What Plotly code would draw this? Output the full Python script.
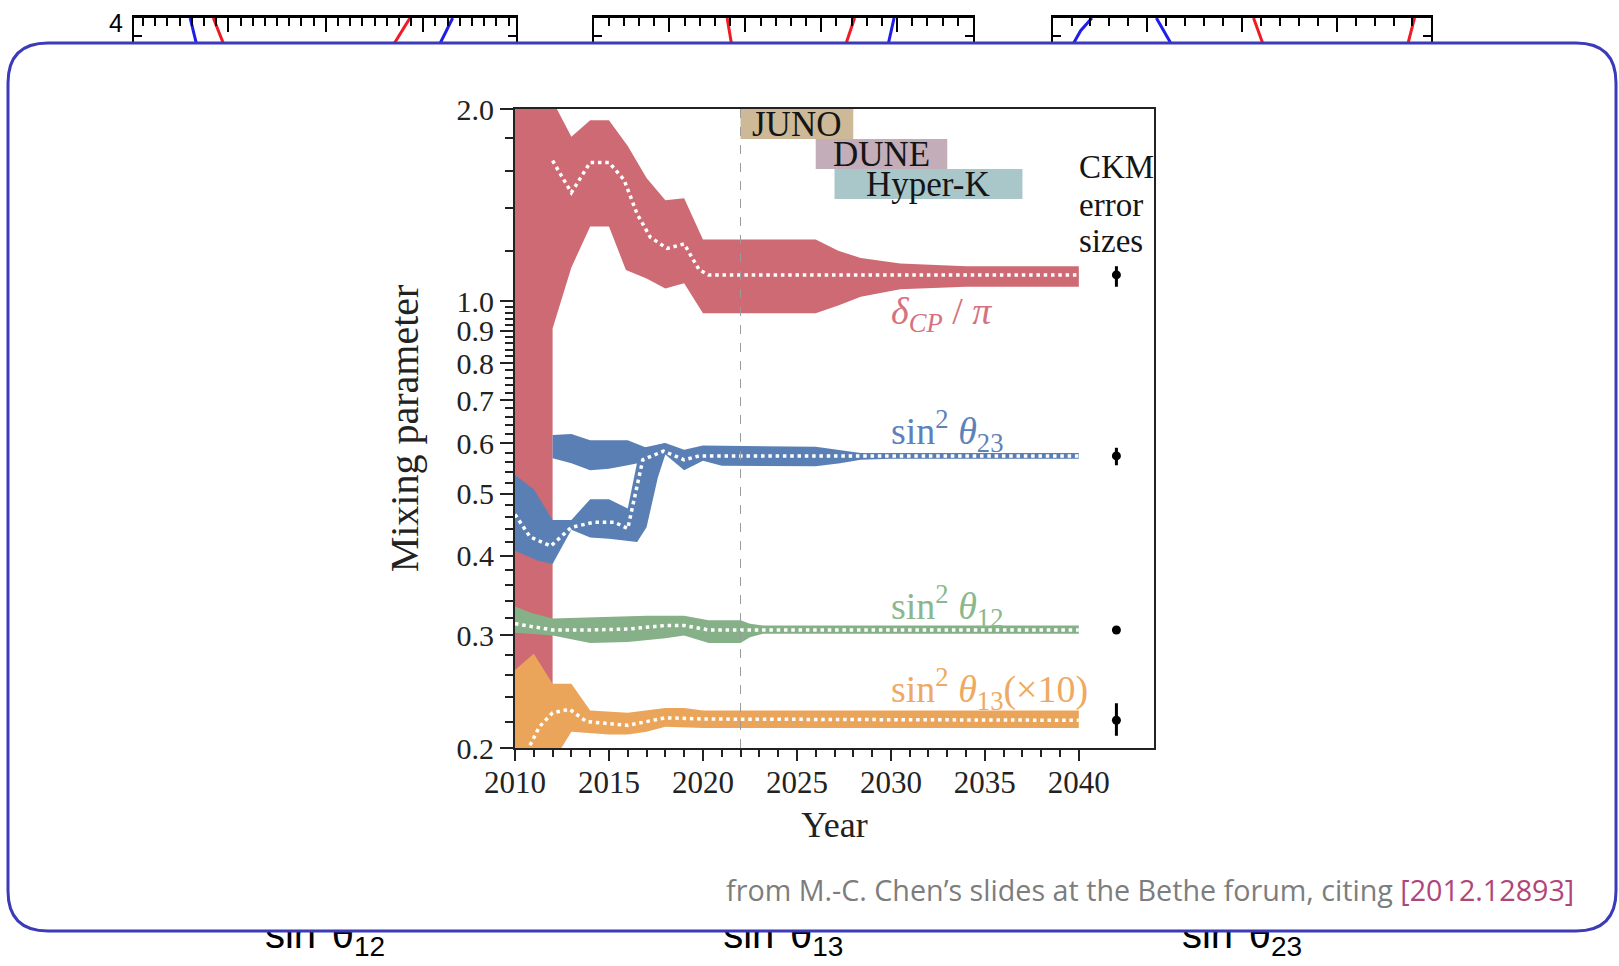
import numpy as np
import plotly.graph_objects as go

W, H = 1619, 966

# ---------------- main chart: axes ----------------
X_MAJOR = [2010, 2015, 2020, 2025, 2030, 2035, 2040]
X_MINOR = [y for y in range(2011, 2040) if y % 5]
Y_MAJOR = [0.2, 0.3, 0.4, 0.5, 0.6, 0.7, 0.8, 0.9, 1.0, 2.0]
Y_LABELS = ["0.2", "0.3", "0.4", "0.5", "0.6", "0.7", "0.8", "0.9", "1.0", "2.0"]
Y_MINOR = [round(0.2 + 0.02 * k, 2) for k in range(1, 40) if k % 5] + [1.2, 1.4, 1.6, 1.8]

# ---------------- main chart: bands (upper / lower edges) ----------------
# delta_CP / pi
RED_UP_X = [2010, 2012, 2013, 2014, 2015, 2016, 2017, 2018, 2019, 2020, 2026, 2027.2, 2028.4, 2030.5, 2034, 2040]
RED_UP = [2.3, 2.06, 1.81, 1.92, 1.92, 1.75, 1.56, 1.44, 1.45, 1.25, 1.25, 1.20, 1.169, 1.146, 1.135, 1.135]
RED_LO_X = [2010, 2012, 2012, 2013, 2014, 2015, 2015.9, 2017, 2018, 2019, 2020, 2026, 2027.2, 2028.4, 2030.5, 2034, 2040]
RED_LO = [0.18, 0.18, 0.907, 1.13, 1.31, 1.31, 1.12, 1.086, 1.047, 1.067, 0.958, 0.958, 0.985, 1.017, 1.045, 1.054, 1.054]
RED_MID_X = [2012, 2013, 2014, 2015, 2015.8, 2016.5, 2017.2, 2018.1, 2019, 2019.8, 2020.3, 2040]
RED_MID = [1.66, 1.48, 1.65, 1.65, 1.55, 1.37, 1.26, 1.21, 1.23, 1.12, 1.10, 1.10]

# sin^2 theta_23 (lower octant -> merged band)
BLUE_UP_X = [2010, 2011, 2012, 2013, 2014, 2015, 2016, 2016.5, 2016.8, 2018, 2019, 2020, 2026, 2027.3, 2028.4, 2040]
BLUE_UP = [0.535, 0.508, 0.455, 0.455, 0.49, 0.49, 0.474, 0.56, 0.59, 0.60, 0.586, 0.595, 0.592, 0.585, 0.579, 0.579]
BLUE_LO_X = [2010, 2011.2, 2012, 2013, 2014, 2015, 2016.5, 2017, 2017.6, 2018, 2019, 2020, 2021, 2026, 2027.3, 2028.4, 2030, 2040]
BLUE_LO = [0.407, 0.393, 0.388, 0.439, 0.427, 0.425, 0.42, 0.443, 0.53, 0.576, 0.544, 0.563, 0.553, 0.552, 0.558, 0.565, 0.567, 0.567]
# sin^2 theta_23 (upper octant band 2012-2018)
BLUE2_UP_X = [2012, 2013, 2014, 2016, 2017, 2018]
BLUE2_UP = [0.618, 0.62, 0.606, 0.606, 0.59, 0.60]
BLUE2_LO_X = [2012, 2013, 2014, 2015, 2016, 2016.8, 2018]
BLUE2_LO = [0.568, 0.558, 0.544, 0.547, 0.554, 0.56, 0.58]
BLUE_MID_X = [2010, 2010.8, 2011.9, 2013, 2014.2, 2015.3, 2016, 2016.3, 2016.6, 2016.8, 2017.9, 2019, 2019.8, 2040]
BLUE_MID = [0.464, 0.428, 0.414, 0.443, 0.451, 0.451, 0.441, 0.484, 0.53, 0.565, 0.583, 0.565, 0.573, 0.573]

# sin^2 theta_12
GREEN_UP_X = [2010, 2010.8, 2012, 2014, 2017, 2019, 2020.3, 2022, 2022.5, 2023.2, 2040]
GREEN_UP = [0.333, 0.326, 0.319, 0.32, 0.322, 0.322, 0.317, 0.317, 0.313, 0.311, 0.311]
GREEN_LO_X = [2010, 2012, 2014, 2016, 2018, 2019, 2020.3, 2022, 2022.5, 2023.2, 2040]
GREEN_LO = [0.303, 0.300, 0.292, 0.293, 0.297, 0.300, 0.292, 0.292, 0.298, 0.302, 0.302]
GREEN_MID_X = [2010, 2011, 2012, 2014, 2016, 2018, 2019, 2020.3, 2040]
GREEN_MID = [0.313, 0.309, 0.306, 0.306, 0.307, 0.311, 0.311, 0.306, 0.306]

# sin^2 theta_13 (x10)
ORANGE_UP_X = [2010, 2011, 2012, 2013, 2014, 2016, 2018, 2019, 2020, 2040]
ORANGE_UP = [0.265, 0.281, 0.252, 0.252, 0.229, 0.227, 0.231, 0.231, 0.229, 0.229]
ORANGE_LO_X = [2010, 2012, 2013, 2015, 2016, 2017, 2018, 2020, 2040]
ORANGE_LO = [0.19, 0.19, 0.212, 0.21, 0.21, 0.212, 0.216, 0.215, 0.215]
ORANGE_MID_X = [2010.8, 2011.3, 2012, 2012.9, 2013.8, 2015, 2016, 2018, 2020, 2040]
ORANGE_MID = [0.202, 0.216, 0.227, 0.23, 0.22, 0.218, 0.217, 0.223, 0.222, 0.221]

# CKM error sizes
CKM_YEAR = 2042
CKM_VALS = [1.10, 0.573, 0.306, 0.221]
CKM_PLUS = [0.035, 0.017, 0.0, 0.014]
CKM_MINUS = [0.046, 0.019, 0.0, 0.012]

# experiments timeline
TODAY = 2022
EXPERIMENTS = ["JUNO", "DUNE", "Hyper-K"]
EXP_START = [2022, 2026, 2027]
EXP_END = [2028, 2033, 2037]
EXP_COLORS = ["#cdb997", "#c2adb9", "#a9c6c9"]

# ---------------- background strip (top of underlying slide) ----------------
STRIP_RANGES = [(6.516, 8.476), (2.25, 2.50), (0.0, 2.0)]
STRIP_TICK0 = [7.0, 2.25, 0.0]
STRIP_DTICK = [0.5, 0.05, 0.5]
STRIP_MINOR = [0.0625, 0.01, 0.1]
STRIP_CURVES = [  # (panel, color, x values, chi2 values)
    (0, "blue", [6.804, 6.838], [4.0, 3.70]),
    (0, "red", [6.923, 6.978], [4.0, 3.70]),
    (0, "red", [7.932, 7.846], [4.0, 3.70]),
    (0, "blue", [8.151, 8.082], [4.0, 3.70]),
    (1, "red", [2.338, 2.341], [4.0, 3.70]),
    (1, "red", [2.422, 2.416], [4.0, 3.70]),
    (1, "blue", [2.448, 2.444], [4.0, 3.70]),
    (2, "blue", [0.2075, 0.148, 0.105], [4.0, 3.86, 3.70]),
    (2, "blue", [0.548, 0.630], [4.0, 3.70]),
    (2, "red", [1.061, 1.113], [4.0, 3.70]),
    (2, "red", [1.911, 1.874], [4.0, 3.70]),
]
BG_XTITLES = ["sin<sup>2</sup>θ<sub>12</sub>", "sin<sup>2</sup>θ<sub>13</sub>", "sin<sup>2</sup>θ<sub>23</sub>"]

# ---------------- styles ----------------
RED, BLUE, GREEN, ORANGE = "#ce6a73", "#5a7fb5", "#86b087", "#eba55a"
RED_T, BLUE_T, GREEN_T, ORANGE_T = "#d5727e", "#5d82b9", "#8bb78c", "#eea963"
SERIF = "Liberation Serif, Times New Roman, serif"
SANS = "Liberation Sans, Arial, sans-serif"
DOT = dict(color="white", width=3.5, dash="3.5px,3.8px")


def px_x(x):
    return x / W


def px_y(y):
    return 1 - y / H


fig = go.Figure()


def band(xu, yu, xl, yl, color):
    fig.add_trace(go.Scatter(
        x=list(xu) + list(xl)[::-1], y=list(yu) + list(yl)[::-1],
        fill="toself", fillcolor=color, mode="lines", line=dict(width=0, color=color),
        hoverinfo="skip", xaxis="x", yaxis="y"))


def dotted(x, y):
    fig.add_trace(go.Scatter(x=x, y=y, mode="lines", line=DOT, hoverinfo="skip",
                             xaxis="x", yaxis="y"))


band(RED_UP_X, RED_UP, RED_LO_X, RED_LO, RED)
dotted(RED_MID_X, RED_MID)
band(BLUE_UP_X, BLUE_UP, BLUE_LO_X, BLUE_LO, BLUE)
band(BLUE2_UP_X, BLUE2_UP, BLUE2_LO_X, BLUE2_LO, BLUE)
dotted(BLUE_MID_X, BLUE_MID)
band(GREEN_UP_X, GREEN_UP, GREEN_LO_X, GREEN_LO, GREEN)
dotted(GREEN_MID_X, GREEN_MID)
band(ORANGE_UP_X, ORANGE_UP, ORANGE_LO_X, ORANGE_LO, ORANGE)
dotted(ORANGE_MID_X, ORANGE_MID)

fig.add_trace(go.Scatter(
    x=[CKM_YEAR] * len(CKM_VALS), y=CKM_VALS, mode="markers",
    marker=dict(color="black", size=9),
    error_y=dict(type="data", array=CKM_PLUS, arrayminus=CKM_MINUS, color="black",
                 thickness=3, width=0),
    hoverinfo="skip", xaxis="x", yaxis="y"))

# strip curves
for panel, col, xs, ys in STRIP_CURVES:
    k = panel + 2
    fig.add_trace(go.Scatter(x=xs, y=ys, mode="lines",
                             line=dict(color="#ee1c24" if col == "red" else "#1e1ee8", width=3),
                             hoverinfo="skip", xaxis=f"x{k}", yaxis=f"y{k}"))

# strip panel geometry (pixels of the slide)
STRIP_LEFT = [134, 593.6, 1052.6]
STRIP_RIGHT = [516, 973, 1431.4]
STRIP_TOP, STRIP_BOTTOM = 18, 43

# background x-titles (cut by the overlay box)
fig.add_trace(go.Scatter(
    x=[(px_x(l) + px_x(r)) / 2 for l, r in zip(STRIP_LEFT, STRIP_RIGHT)],
    y=[px_y(938)] * 3, mode="text", text=BG_XTITLES,
    textfont=dict(family=SANS, size=40, color="black"), textposition="middle center",
    hoverinfo="skip", xaxis="x5", yaxis="y5"))

layout = dict(
    width=W, height=H, margin=dict(l=0, r=0, t=0, b=0, pad=0, autoexpand=False),
    paper_bgcolor="white", plot_bgcolor="rgba(0,0,0,0)", showlegend=False,
    xaxis=dict(
        domain=[px_x(515), px_x(1154)], range=[2010, 2044], automargin=False,
        tickmode="array", tickvals=X_MAJOR, ticks="outside", ticklen=11, tickwidth=2,
        tickcolor="#222", ticklabelstandoff=-5,
        minor=dict(tickmode="array", tickvals=X_MINOR, ticks="outside", ticklen=7,
                   tickwidth=1.5, tickcolor="#222"),
        showline=True, linewidth=2, linecolor="#222", mirror=True, showgrid=False,
        zeroline=False,
        tickfont=dict(family=SERIF, size=31, color="#222"),
        title=dict(text="Year", font=dict(family=SERIF, size=36, color="#222"), standoff=13),
        anchor="y"),
    yaxis=dict(
        type="log", domain=[px_y(748), px_y(109)], range=[np.log10(0.2), np.log10(2.0)],
        automargin=False,
        tickmode="array", tickvals=Y_MAJOR, ticktext=Y_LABELS, ticks="outside", ticklen=13,
        tickwidth=2, tickcolor="#222",
        minor=dict(tickmode="array", tickvals=Y_MINOR, ticks="outside", ticklen=8,
                   tickwidth=1.5, tickcolor="#222"),
        showline=True, linewidth=2, linecolor="#222", mirror=True, showgrid=False,
        zeroline=False,
        tickfont=dict(family=SERIF, size=30, color="#222"),
        title=dict(text="Mixing parameter", font=dict(family=SERIF, size=40, color="#222"),
                   standoff=26),
        anchor="x"),
    xaxis5=dict(domain=[0, 1], range=[0, 1], visible=False, anchor="y5", automargin=False),
    yaxis5=dict(domain=[0, 1], range=[0, 1], visible=False, anchor="x5", automargin=False),
)

for i in range(3):
    k = i + 2
    layout[f"xaxis{k}"] = dict(
        domain=[px_x(STRIP_LEFT[i]), px_x(STRIP_RIGHT[i])], range=list(STRIP_RANGES[i]),
        side="top", anchor=f"y{k}", tick0=STRIP_TICK0[i], dtick=STRIP_DTICK[i],
        automargin=False,
        ticks="inside", ticklen=14, tickwidth=1.5, tickcolor="black",
        minor=dict(dtick=STRIP_MINOR[i], ticks="inside", ticklen=8, tickwidth=1.5,
                   tickcolor="black"),
        showticklabels=False, showline=True, linewidth=3, linecolor="black",
        showgrid=False, zeroline=False, mirror=False)
    layout[f"yaxis{k}"] = dict(
        domain=[px_y(STRIP_BOTTOM), px_y(STRIP_TOP)], range=[3.7237, 4.0],
        anchor=f"x{k}", tickmode="array", tickvals=[], showticklabels=False,
        automargin=False,
        minor=dict(tickmode="array", tickvals=[3.8], ticks="inside", ticklen=8,
                   tickwidth=2, tickcolor="black"),
        showline=True, linewidth=2, linecolor="black", mirror="ticks",
        showgrid=False, zeroline=False)

fig.update_layout(**layout)

# ---------------- shapes ----------------
shapes = []
shapes.append(dict(type="line", xref="x", yref="y domain", x0=TODAY, x1=TODAY, y0=0, y1=1,
                   line=dict(color="#9a9a9a", width=1, dash="dash"), layer="above"))
ROW_H = 0.047
for i, (s, e, c) in enumerate(zip(EXP_START, EXP_END, EXP_COLORS)):
    shapes.append(dict(type="rect", xref="x", yref="y domain", x0=s, x1=e,
                       y0=1 - ROW_H * (i + 1), y1=1 - ROW_H * i,
                       fillcolor=c, line=dict(width=0), layer="below"))

# white cover so the background x-titles are cut by the overlay card
shapes.append(dict(type="rect", xref="paper", yref="paper", x0=px_x(60), x1=px_x(1560),
                   y0=px_y(931), y1=px_y(865), fillcolor="white", line=dict(width=0),
                   layer="above"))

# rounded overlay card
x0, x1, y0, y1, r = 8, 1616, 43, 931, 40
path = (f"M {px_x(x0 + r)},{px_y(y0)} L {px_x(x1 - r)},{px_y(y0)} "
        f"Q {px_x(x1)},{px_y(y0)} {px_x(x1)},{px_y(y0 + r)} "
        f"L {px_x(x1)},{px_y(y1 - r)} Q {px_x(x1)},{px_y(y1)} {px_x(x1 - r)},{px_y(y1)} "
        f"L {px_x(x0 + r)},{px_y(y1)} Q {px_x(x0)},{px_y(y1)} {px_x(x0)},{px_y(y1 - r)} "
        f"L {px_x(x0)},{px_y(y0 + r)} Q {px_x(x0)},{px_y(y0)} {px_x(x0 + r)},{px_y(y0)} Z")
shapes.append(dict(type="path", xref="paper", yref="paper", path=path,
                   line=dict(color="#3b3bb9", width=3), fillcolor="rgba(0,0,0,0)",
                   layer="above"))
fig.update_layout(shapes=shapes)

# ---------------- annotations ----------------
ann = []
LABEL_X = 2029.9
labels = [
    ("<i>δ<sub>CP</sub></i> / <i>π</i>", 0.955, RED_T),
    ("sin<sup>2</sup> <i>θ</i><sub>23</sub>", 0.627, BLUE_T),
    ("sin<sup>2</sup> <i>θ</i><sub>12</sub>", 0.334, GREEN_T),
    ("sin<sup>2</sup> <i>θ</i><sub>13</sub>(×10)", 0.247, ORANGE_T),
]
for txt, yv, col in labels:
    ann.append(dict(x=LABEL_X, y=np.log10(yv), xref="x", yref="y", text=txt,
                    showarrow=False, xanchor="left", yanchor="middle",
                    font=dict(family=SERIF, size=38, color=col)))

for i, (name, s, e) in enumerate(zip(EXPERIMENTS, EXP_START, EXP_END)):
    ann.append(dict(x=(s + e) / 2, y=1 - ROW_H * (i + 0.5), xref="x", yref="y domain",
                    text=name, showarrow=False, xanchor="center", yanchor="middle",
                    font=dict(family=SERIF, size=35, color="#151515")))

for txt, yv in [("CKM", 1.62), ("error", 1.415), ("sizes", 1.245)]:
    ann.append(dict(x=2039.9, y=np.log10(yv), xref="x", yref="y", text=txt,
                    showarrow=False, xanchor="left", yanchor="middle",
                    font=dict(family=SERIF, size=33, color="#151515")))

ann.append(dict(x=px_x(116), y=px_y(23), xref="paper", yref="paper", text="4",
                showarrow=False, xanchor="center", yanchor="middle",
                font=dict(family=SANS, size=25, color="black")))

ann.append(dict(x=px_x(1576), y=px_y(889), xref="paper", yref="paper",
                text="from M.-C. Chen’s slides at the Bethe forum, citing "
                     "<span style='color:#b0457a'>[2012.12893]</span>",
                showarrow=False, xanchor="right", yanchor="middle",
                font=dict(family="Open Sans, sans-serif", size=28.7, color="#7d7d7d")))

fig.update_layout(annotations=ann)

fig.write_html("out.html", config={"displayModeBar": False},
               post_script="document.body.style.margin='0';document.body.style.overflow='hidden';")
